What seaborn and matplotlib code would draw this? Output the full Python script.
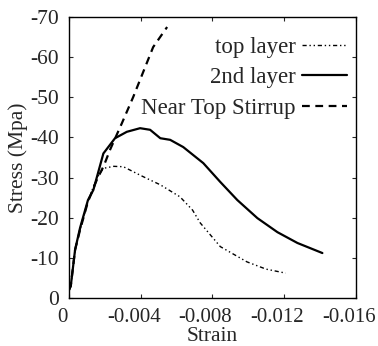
"""
Stress-strain curves for top layer, 2nd layer and near top stirrup.
"""

import matplotlib
matplotlib.use("Agg")
import matplotlib.pyplot as plt
import matplotlib.transforms as mtrans
import seaborn as sns

# ============================================================
# DATA
# ============================================================

top_strain = [0.0, -0.0001, -0.00034, -0.00062, -0.00106, -0.00136, -0.00165,
              -0.00192, -0.0025, -0.00304, -0.00397, -0.00453, -0.0051,
              -0.0062, -0.0069, -0.00733, -0.00845, -0.00994, -0.0110, -0.0121]
top_stress = [-2.0, -3.0, -12.0, -17.0, -24.0, -27.7, -30.5,
              -32.3, -32.8, -32.7, -30.6, -29.4, -28.2,
              -25.2, -21.9, -18.7, -12.8, -9.0, -7.2, -6.2]

second_strain = [0.0, -0.0001, -0.00034, -0.00062, -0.00106, -0.00136, -0.00192,
                 -0.00257, -0.00323, -0.00397, -0.00453, -0.0051, -0.00565,
                 -0.00638, -0.0075, -0.00845, -0.0094, -0.01052, -0.01164,
                 -0.01276, -0.01415]
second_stress = [-2.0, -3.0, -12.0, -17.5, -24.4, -26.9, -36.0,
                 -39.8, -41.4, -42.3, -41.9, -39.8, -39.4,
                 -37.6, -33.6, -28.9, -24.4, -19.9, -16.4,
                 -13.7, -11.2]

stirrup_strain = [0.0, -0.0001, -0.00034, -0.00062, -0.00106, -0.00155, -0.00195,
                  -0.0023, -0.00295, -0.00358, -0.0047, -0.00548]
stirrup_stress = [-2.0, -3.0, -12.0, -17.0, -24.0, -29.4, -33.0,
                  -37.0, -43.5, -50.0, -62.5, -67.5]

x_ticks = [0, -0.004, -0.008, -0.012, -0.016]
x_tick_labels = ["0", "-0.004", "-0.008", "-0.012", "-0.016"]
y_ticks = [0, -10, -20, -30, -40, -50, -60, -70]
y_tick_labels = ["0", "-10", "-20", "-30", "-40", "-50", "-60", "-70"]

# ============================================================
# STYLE
# ============================================================

sns.set_style("ticks")
plt.rcParams["font.family"] = ["Liberation Serif", "DejaVu Serif"]
plt.rcParams["axes.unicode_minus"] = False

fig = plt.figure(figsize=(3.78, 3.46), dpi=100)
ax = fig.add_axes([0.1825, 0.1387, 0.758, 0.8122])

series = [
    ("top layer", top_strain, top_stress, (0, (3, 2, 1, 2, 1, 2)), 1.0),
    ("2nd layer", second_strain, second_stress, "-", 1.6),
    ("Near Top Stirrup", stirrup_strain, stirrup_stress, (0, (3.5, 2.5)), 1.6),
]

for label, xs, ys, ls, lw in series:
    sns.lineplot(x=xs, y=ys, ax=ax, color="black", linestyle=ls,
                 linewidth=lw, sort=False, label=label)

ax.set_xlim(0, -0.016)
ax.set_ylim(0, -70)
ax.set_xticks(x_ticks)
ax.set_xticklabels([])
ax.set_yticks(y_ticks)
ax.set_yticklabels(y_tick_labels)

ax.tick_params(direction="in", length=3, width=0.8, labelsize=15.5,
               top=True, right=True)
ax.tick_params(axis="y", pad=7)

# x tick labels: drawn as texts, a little left of their ticks like the original
xlab_trans = mtrans.offset_copy(ax.get_xaxis_transform(), fig=fig,
                                x=-5, y=-7, units="points")
for val, txt in zip(x_ticks, x_tick_labels):
    ax.text(val, 0, txt, transform=xlab_trans, ha="center", va="top",
            fontsize=15, zorder=10, clip_on=False)

for spine in ax.spines.values():
    spine.set_linewidth(1.0)
    spine.set_color("black")

ax.set_xlabel("Strain", fontsize=15.5, labelpad=17.5)
ax.set_ylabel("Stress (Mpa)", fontsize=15.5, labelpad=2)

ax.legend(loc="upper right", bbox_to_anchor=(0.972, 0.928), frameon=False,
          markerfirst=False, fontsize=16.5, handlelength=2.0,
          handletextpad=0.25, labelspacing=0.4, borderaxespad=0,
          borderpad=0)

fig.savefig("out.png", dpi=100)
plt.close(fig)
